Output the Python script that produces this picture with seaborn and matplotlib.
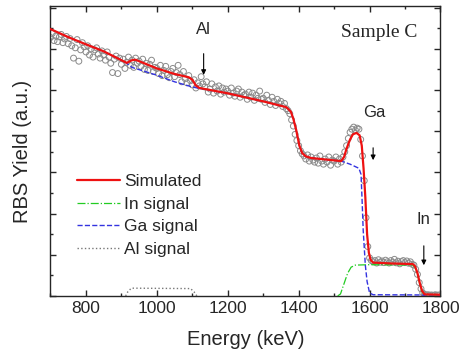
import numpy as np
import matplotlib
matplotlib.use("Agg")
import matplotlib.pyplot as plt
from matplotlib.ticker import MultipleLocator
import seaborn as sns

# measured spectrum (channel energies in keV, 5 keV apart)
energy = np.arange(700, 1800, 5)
rbs_yield = [
    12.55, 12.75, 12.40, 12.62, 12.35, 12.58, 12.70, 12.30, 12.48, 12.60,
    12.25, 12.50, 12.15, 11.55, 12.05, 12.45, 11.40, 11.95, 12.30, 12.10,
    11.85, 12.15, 11.70, 12.00, 11.60, 11.95, 12.05, 11.75, 11.55, 11.90,
    11.70, 11.45, 11.85, 11.60, 11.30, 10.85, 11.50, 11.65, 10.80, 11.55,
    11.25, 11.50, 11.05, 11.35, 11.60, 11.20, 11.45, 11.10, 11.55, 11.30,
    11.40, 11.15, 11.50, 11.00, 11.30, 10.95, 11.25, 11.45, 10.90, 11.10,
    11.05, 10.80, 11.20, 10.70, 10.95, 11.15, 10.75, 10.60, 10.90, 11.05,
    10.65, 10.85, 11.20, 10.75, 10.40, 10.90, 10.55, 10.35, 10.70, 10.45,
    10.25, 10.50, 10.10, 10.35, 10.20, 10.65, 10.30, 10.15, 10.40, 9.90,
    10.05, 10.30, 9.85, 10.15, 9.95, 10.20, 9.80, 10.10, 9.90, 10.05,
    9.95, 9.75, 10.10, 9.85, 9.70, 9.95, 10.05, 9.65, 9.90, 9.75,
    9.80, 9.55, 9.90, 9.65, 9.85, 9.50, 9.75, 9.60, 9.95, 9.55,
    9.60, 9.40, 9.75, 9.50, 9.30, 9.65, 9.45, 9.25, 9.55, 9.35,
    9.45, 9.20, 9.35, 9.10, 9.00, 8.85, 8.55, 8.25, 7.85, 7.55,
    7.30, 7.05, 6.90, 6.80, 6.65, 6.85, 6.55, 6.75, 6.60, 6.50,
    6.70, 6.45, 6.80, 6.55, 6.40, 6.65, 6.50, 6.75, 6.35, 6.60,
    6.55, 6.75, 6.40, 6.65, 6.50, 6.75, 7.00, 7.30, 7.65, 7.95,
    8.10, 8.20, 8.05, 8.15, 8.10, 7.60, 6.80, 5.60, 3.80, 2.40,
    1.85, 1.72, 1.66, 1.72, 1.60, 1.76, 1.64, 1.70, 1.62, 1.74,
    1.66, 1.60, 1.72, 1.64, 1.78, 1.61, 1.69, 1.56, 1.67, 1.72,
    1.62, 1.70, 1.59, 1.66, 1.54, 1.50, 1.30, 1.05, 0.65, 0.35,
    0.15, 0.08, 0.05, 0.06, 0.04, 0.05, 0.03, 0.06, 0.04, 0.05,
]

# simulated total
sim_e = [700, 750, 800, 850, 900, 915, 930, 940, 1000, 1050, 1090, 1100, 1110,
         1120, 1200, 1300, 1365, 1378, 1385, 1393, 1402, 1410, 1420, 1435, 1520,
         1528, 1535, 1545, 1553, 1563, 1572, 1578, 1583, 1588, 1593, 1598, 1603,
         1610, 1660, 1722, 1728, 1735, 1742, 1748, 1755, 1800]
sim_y = [12.96, 12.57, 12.22, 11.88, 11.45, 11.32, 11.45, 11.47, 11.05, 10.78,
         10.62, 10.50, 10.22, 10.10, 9.84, 9.45, 9.17, 8.95, 8.60, 8.06, 7.30,
         6.94, 6.78, 6.70, 6.55, 6.75, 7.15, 7.60, 7.85, 7.92, 7.80, 7.30, 6.20,
         4.80, 3.00, 2.10, 1.75, 1.62, 1.58, 1.55, 1.45, 1.12, 0.60, 0.25, 0.08,
         0.06]

# Ga signal
ga_e = [700, 750, 800, 850, 900, 915, 930, 1000, 1050, 1100, 1120, 1200, 1300,
        1365, 1378, 1385, 1393, 1402, 1410, 1420, 1435, 1520, 1545, 1570, 1576,
        1579, 1582, 1588, 1593, 1600, 1610, 1750, 1758, 1800]
ga_y = [12.96, 12.57, 12.22, 11.88, 11.45, 11.30, 11.10, 10.72, 10.40, 10.15,
        10.08, 9.84, 9.45, 9.17, 8.95, 8.60, 8.06, 7.30, 6.94, 6.78, 6.70, 6.55,
        6.40, 6.20, 5.90, 4.60, 3.20, 1.50, 0.70, 0.15, 0.06, 0.05, 0.0, 0.0]

# In signal
in_e = [1510, 1518, 1528, 1538, 1548, 1560, 1600, 1722, 1728, 1735, 1742, 1748,
        1755, 1800]
in_y = [0.0, 0.10, 0.60, 1.10, 1.40, 1.50, 1.52, 1.50, 1.40, 1.07, 0.55, 0.20,
        0.02, 0.0]

# Al signal
al_e = [912, 918, 928, 1095, 1105, 1113]
al_y = [0.0, 0.20, 0.38, 0.36, 0.20, 0.0]

sns.set_style("ticks")
plt.rcParams["font.family"] = ["Liberation Sans", "DejaVu Sans"]

fig = plt.figure(figsize=(4.61, 3.6), dpi=100)
ax = fig.add_axes([0.1095, 0.1778, 0.8460, 0.8055])

sns.scatterplot(x=energy, y=rbs_yield, marker="o", s=18, facecolors="none",
                edgecolors="#8a8a8a", linewidth=0.7, ax=ax, zorder=2)
sns.lineplot(x=al_e, y=al_y, color="#777777", linestyle=":", lw=1.0,
             estimator=None, sort=False, label="Al signal", ax=ax, zorder=3)
sns.lineplot(x=in_e, y=in_y, color="#22cc22", linestyle="-.", lw=0.9,
             estimator=None, sort=False, label="In signal", ax=ax, zorder=3)
sns.lineplot(x=ga_e, y=ga_y, color="#3333e0", linestyle="--", lw=1.0,
             estimator=None, sort=False, label="Ga signal", ax=ax, zorder=4)
sns.lineplot(x=sim_e, y=sim_y, color="#ee1111", lw=1.6,
             estimator=None, sort=False, label="Simulated", ax=ax, zorder=5)

ax.set_xlim(700, 1800)
ax.set_ylim(0, 14.08)
ax.xaxis.set_major_locator(MultipleLocator(200))
ax.xaxis.set_minor_locator(MultipleLocator(100))
ax.yaxis.set_major_locator(MultipleLocator(2))
ax.yaxis.set_minor_locator(MultipleLocator(1))
ax.set_yticklabels([])
ax.tick_params(which="both", direction="in", top=True, right=True,
               labelsize=12.5, width=1.0)
ax.tick_params(which="major", length=4)
ax.tick_params(which="minor", length=2)
for s in ax.spines.values():
    s.set_linewidth(1.0)
    s.set_visible(True)

ax.set_xlabel("Energy (keV)", fontsize=14.5, labelpad=10)
ax.set_ylabel("RBS Yield (a.u.)", fontsize=14.5, labelpad=10)

# element markers
arrow = dict(arrowstyle="-|>", color="black", lw=0.8, mutation_scale=7)
ax.annotate("", xy=(1132, 10.6), xytext=(1132, 11.9), arrowprops=arrow)
ax.text(1132, 12.96, "Al", fontsize=12, ha="center", va="center")
ax.annotate("", xy=(1610, 6.46), xytext=(1610, 7.33), arrowprops=arrow)
ax.text(1613, 8.93, "Ga", fontsize=12, ha="center", va="center")
ax.annotate("", xy=(1753, 1.36), xytext=(1753, 2.57), arrowprops=arrow)
ax.text(1751, 3.69, "In", fontsize=12, ha="center", va="center")

ax.text(0.843, 0.91, "Sample C", transform=ax.transAxes, fontsize=14,
        family="Liberation Serif", ha="center", va="center")

h, l = ax.get_legend_handles_labels()
order = [l.index(k) for k in ["Simulated", "In signal", "Ga signal", "Al signal"]]
ax.legend([h[i] for i in order], [l[i] for i in order], loc="upper left",
          bbox_to_anchor=(0.068, 0.42), frameon=False, fontsize=12.5,
          borderpad=0, borderaxespad=0, handlelength=2.5, handletextpad=0.2,
          labelspacing=0.42)

fig.savefig("out.png", dpi=100)
